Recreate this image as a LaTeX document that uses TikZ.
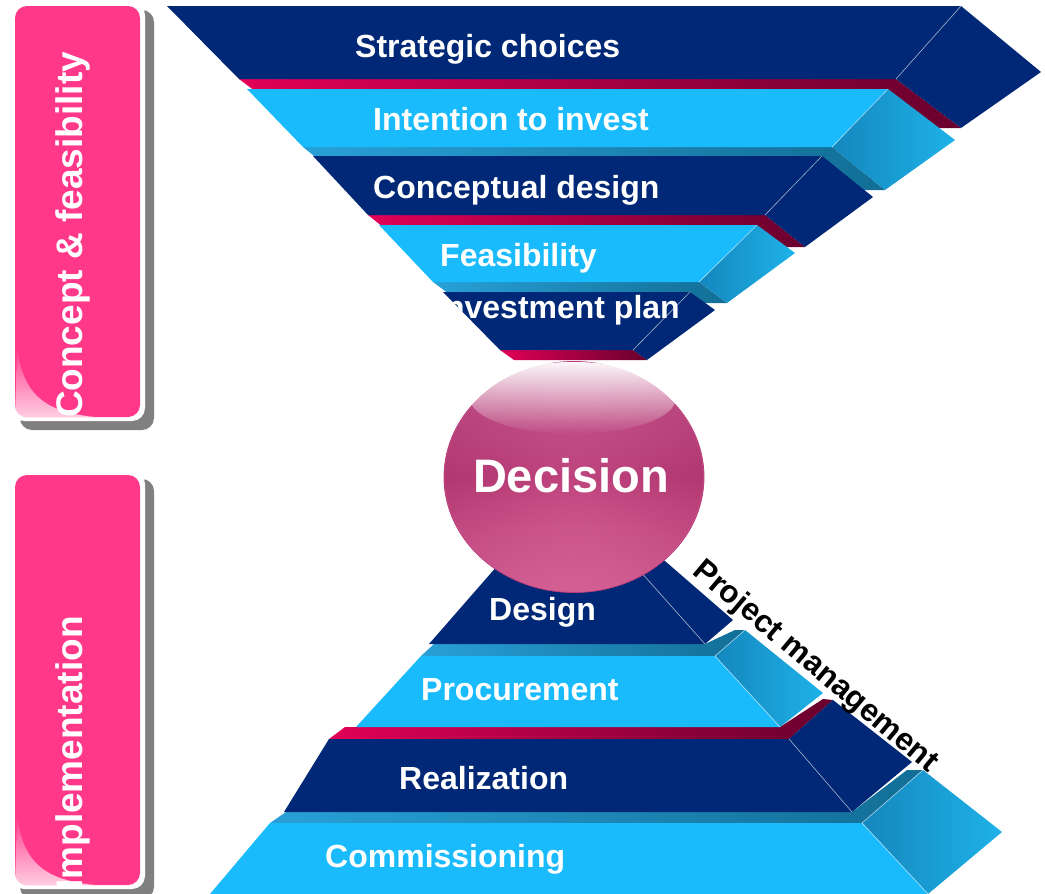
\documentclass[tikz,border=0pt]{standalone}
\usepackage{fontspec}
\setmainfont{Liberation Sans}
\usetikzlibrary{shapes.geometric,fadings}
\definecolor{navy}{RGB}{0,40,118}
\definecolor{lblue}{RGB}{26,187,252}
\definecolor{sideblueA}{RGB}{20,135,190}
\definecolor{sideblueB}{RGB}{30,178,232}
\definecolor{stripA}{RGB}{40,160,215}
\definecolor{stripB}{RGB}{18,110,150}
\definecolor{magA}{RGB}{225,0,88}
\definecolor{magB}{RGB}{105,0,45}
\definecolor{tabpink}{RGB}{255,56,138}
\definecolor{tabshadow}{RGB}{128,128,128}
\definecolor{sphtop}{RGB}{210,105,158}
\definecolor{sphmid}{RGB}{190,68,126}
\definecolor{sphbot}{RGB}{238,125,174}
\definecolor{sphrim}{RGB}{185,60,120}
\definecolor{sphdark}{RGB}{150,25,85}
\tikzfading[name=fadedown, top color=transparent!5, bottom color=transparent!100]
\tikzfading[name=glossfade, bottom color=transparent!25, top color=transparent!100]
\tikzfading[name=ringfade, inner color=transparent!100, outer color=transparent!70]
\tikzset{
  navyface/.style={fill=navy},
  blueface/.style={fill=lblue},
  blueside/.style={left color=sideblueA, right color=sideblueB},
  navyside/.style={fill=navy},
  magstrip/.style={left color=magA, right color=magB},
  bluestrip/.style={left color=stripA, right color=stripB},
  edgeline/.style={draw=white, draw opacity=0.6, line width=0.6pt},
  lbl/.style={text=white, font=\bfseries\fontsize{32}{38}\selectfont, inner sep=0pt},
  tablbl/.style={rotate=90, anchor=base, text=white, font=\bfseries\fontsize{37}{44}\selectfont, inner sep=0pt},
}
\begin{document}
\begin{tikzpicture}[x=1pt,y=-1pt]
\useasboundingbox (0,0) rectangle (1045,894);
\clip (0,0) rectangle (1045,894);

% ---------- side tabs ----------
\path[fill=tabshadow, rounded corners=12pt] (20,10) rectangle (154,430);
\path[fill=white, rounded corners=13pt] (11,2) rectangle (145,421);
\path[fill=tabpink, rounded corners=12pt] (15,6) rectangle (140,417);
\begin{scope}
  \clip[rounded corners=12pt] (15,6) rectangle (140,417);
  \fill[white, path fading=glossfade] (17,345) .. controls (22,395) and (45,412) .. (95,417) -- (15,417) -- cycle;
\end{scope}
\node[tablbl] (tab1) at (82,235) {Concept \& feasibility};

\path[fill=tabshadow, rounded corners=12pt] (20,479) rectangle (154,899);
\path[fill=white, rounded corners=13pt] (11,471) rectangle (145,889);
\path[fill=tabpink, rounded corners=12pt] (15,475) rectangle (140,885);
\begin{scope}
  \clip[rounded corners=12pt] (15,475) rectangle (140,885);
  \fill[white, path fading=glossfade] (17,813) .. controls (22,863) and (45,880) .. (95,885) -- (15,885) -- cycle;
\end{scope}
\node[tablbl] (tab2) at (82,753) {Implementation};

% ---------- top funnel ----------
% layer 1
\path[magstrip] (239,79) -- (896,79) -- (961,128) -- (304,128) -- cycle;
\path[navyside] (961,6) -- (1041,72) -- (961,128) -- (896,79) -- cycle;
\path[navyface] (167,6) -- (961,6) -- (896,79) -- (239,79) -- cycle;
\draw[edgeline] (961,6) -- (896,79);
\node[lbl, anchor=base west] (l1) at (355,57) {Strategic choices};
% layer 2
\path[bluestrip] (303,147) -- (832,147) -- (885,190) -- (356,190) -- cycle;
\path[blueside] (888,89) -- (955,140) -- (885,190) -- (832,147) -- cycle;
\path[blueface] (247,89) -- (888,89) -- (832,147) -- (303,147) -- cycle;
\draw[edgeline] (888,89) -- (832,147);
\node[lbl, anchor=base west] (l2) at (373,130) {Intention to invest};
% layer 3
\path[magstrip] (368,215) -- (765,215) -- (805,247) -- (408,247) -- cycle;
\path[navyside] (822,156) -- (873,197) -- (805,247) -- (765,215) -- cycle;
\path[navyface] (313,156) -- (822,156) -- (765,215) -- (368,215) -- cycle;
\draw[edgeline] (822,156) -- (765,215);
\node[lbl, anchor=base west] (l3) at (373,198) {Conceptual design};
% layer 4
\path[bluestrip] (433,282) -- (699,282) -- (727,303) -- (461,303) -- cycle;
\path[blueside] (757,225) -- (795,253) -- (727,303) -- (699,282) -- cycle;
\path[blueface] (379,225) -- (757,225) -- (699,282) -- (433,282) -- cycle;
\draw[edgeline] (757,225) -- (699,282);
\node[lbl, anchor=base west] (l4) at (440,266) {Feasibility};
% layer 5
\path[magstrip] (500,350) -- (633,350) -- (647,360) -- (514,360) -- cycle;
\path[navyside] (690,292) -- (715,310) -- (647,360) -- (633,350) -- cycle;
\path[navyface] (443,292) -- (690,292) -- (633,350) -- (500,350) -- cycle;
\draw[edgeline] (690,292) -- (633,350);
\begin{scope}
  \clip (431,280) -- (800,280) -- (800,365) -- (515,365) -- cycle;
  \node[lbl, anchor=base east] (l5) at (680,318) {Investment plan};
\end{scope}

% ---------- bottom pyramid ----------
% commissioning
\path[bluestrip] (286,812) -- (852,812) -- (907,770) -- (923,770) -- (862,823) -- (270,823) -- cycle;
\path[blueside] (862,823) -- (923,770) -- (1002,832) -- (928,894) -- cycle;
\path[blueface] (270,823) -- (862,823) -- (928,894) -- (210,894) -- cycle;
\draw[edgeline] (862,823) -- (928,894);
\draw[edgeline] (862,823) -- (923,770);
\node[lbl, anchor=base west] (b4) at (325,867) {Commissioning};
% realization
\path[magstrip] (345,727) -- (780,727) -- (823,699) -- (833,700) -- (789,739) -- (329,739) -- cycle;
\path[navyside] (789,739) -- (833,700) -- (912,762) -- (852,812) -- cycle;
\path[navyface] (329,739) -- (789,739) -- (852,812) -- (284,812) -- cycle;
\draw[edgeline] (789,739) -- (852,812);
\node[lbl, anchor=base west] (b3) at (399,789) {Realization};
% procurement
\path[bluestrip] (434,644) -- (705,644) -- (735,630) -- (745,630) -- (715,656) -- (421,656) -- cycle;
\path[blueside] (715,656) -- (745,630) -- (823,693) -- (780,727) -- cycle;
\path[blueface] (421,656) -- (715,656) -- (780,727) -- (356,727) -- cycle;
\draw[edgeline] (715,656) -- (780,727);
\draw[edgeline] (715,656) -- (745,630);
\node[lbl, anchor=base west] (b2) at (421,700) {Procurement};
% design
\path[navyside] (634,565) -- (650,548) -- (733,620) -- (705,644) -- cycle;
\path[navyface] (498,565) -- (634,565) -- (705,644) -- (429,644) -- cycle;
\draw[edgeline] (640,571) -- (705,644);
\node[lbl, anchor=base west] (b1) at (489,620) {Design};

% ---------- decision sphere ----------
\node[ellipse, minimum width=260pt, minimum height=231pt, inner sep=0pt,
      draw=sphrim, line width=0.8pt, top color=sphtop, bottom color=sphbot,
      middle color=sphmid] (decision) at (574,477) {};
\fill[sphdark, path fading=ringfade] (574,477) ellipse [x radius=129pt, y radius=115pt];
\fill[white, path fading=fadedown] (573,398) ellipse [x radius=103pt, y radius=36pt];
\node[anchor=base, text=white, inner sep=0pt, font=\bfseries\fontsize{47}{56}\selectfont] (dtext) at (571,492) {Decision};

% ---------- project management ----------
\node[rotate=-40, inner sep=0pt, font=\bfseries\fontsize{31.5}{36}\selectfont] (pm) at (815,667) {Project management};
\end{tikzpicture}
\end{document}
